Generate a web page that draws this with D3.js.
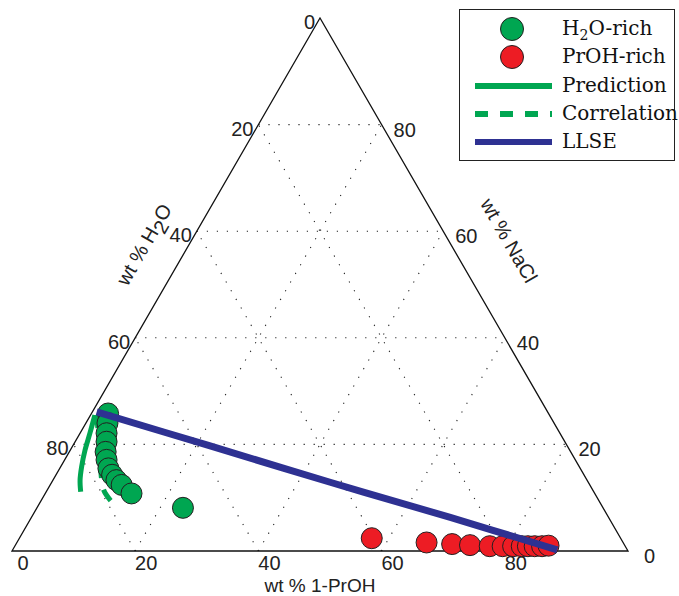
<!DOCTYPE html>
<html>
<head>
<meta charset="utf-8">
<script src="https://cdn.jsdelivr.net/npm/d3@7"></script>
<style>
html,body{margin:0;padding:0;background:#fff;}
svg{display:block;}
</style>
</head>
<body>
<svg id="chart" width="679" height="596"></svg>
<script>
// ---- data (wt %) ----
const tickValues = [0, 20, 40, 60, 80];
const gridValues = [20, 40, 60, 80];

// H2O-rich phase
const h2oRichPrOH = [2.7, 3.5, 4.3, 5.1, 5.9, 6.8, 7.9, 9.1, 10.3, 11.6, 14.0, 23.7];
const h2oRichNaCl = [25.8, 24.0, 22.1, 20.5, 18.6, 17.1, 15.5, 14.3, 13.3, 12.4, 10.8, 8.1];

// PrOH-rich phase
const prohRichPrOH = [57.2, 66.5, 70.8, 73.8, 77.1, 79.2, 80.9, 82.3, 83.3, 84.4, 85.6, 86.6];
const prohRichNaCl = [2.4, 1.6, 1.3, 1.1, 0.9, 0.9, 0.9, 0.9, 0.9, 0.9, 0.9, 1.0];

// Prediction curve
const predPrOH = [0.7, 1.6, 2.4, 3.4, 4.4, 5.6];
const predNaCl = [25.5, 22.1, 18.9, 15.8, 13.3, 11.1];

// Correlation curve
const corrPrOH = [1.0, 3.7, 6.8, 9.2, 11.6];
const corrNaCl = [25.5, 20.8, 15.2, 11.4, 9.2];

// LLSE curve
const llsePrOH = [0.7, 22.0, 45.2, 68.0, 88.4];
const llseNaCl = [26.1, 19.8, 12.9, 6.3, 0.2];

const legendLabels = ["H2O-rich", "PrOH-rich", "Prediction", "Correlation", "LLSE"];

// ---- colours ----
const GREEN = "#00a651", RED = "#ed1c24", BLUE = "#2e3192", EDGE = "#231f20";

// ---- projection ----
const sx = d3.scaleLinear().domain([0, 100]).range([12, 628]);
const sy = d3.scaleLinear().domain([0, 100]).range([551, 18]);
function proj(proh, nacl) { return [sx(proh + nacl / 2), sy(nacl)]; }

const svg = d3.select("#chart");
const line = d3.line();

// ---- grid (dotted) ----
const grid = svg.append("g").attr("fill", "none").attr("stroke", "#222")
  .attr("stroke-width", 1.1).attr("stroke-dasharray", "1.2,8.8");
gridValues.forEach(f => {
  grid.append("path").attr("d", line([proj(0, f), proj(100 - f, f)]));
  grid.append("path").attr("d", line([proj(100 - f, 0), proj(0, 100 - f)]));
  grid.append("path").attr("d", line([proj(f, 0), proj(f, 100 - f)]));
});

// ---- triangle ----
svg.append("path")
  .attr("d", line([proj(0, 0), proj(100, 0), proj(0, 100)]) + "Z")
  .attr("fill", "none").attr("stroke", "#111").attr("stroke-width", 1.3);

// ---- tick labels ----
const tl = svg.append("g").attr("font-family", "'Liberation Sans', Arial, sans-serif")
  .attr("font-size", 20).attr("fill", "#222");
tickValues.forEach(v => {
  const pl = proj(0, 100 - v);
  tl.append("text").attr("x", pl[0] - 5).attr("y", pl[1] + 11)
    .attr("text-anchor", "end").text(v);
  const pr = proj(100 - v, v);
  tl.append("text").attr("x", pr[0] + (v === 0 ? 16 : 12)).attr("y", pr[1] + 12)
    .attr("text-anchor", "start").text(v);
  const pb = proj(v, 0);
  tl.append("text").attr("x", pb[0] + 11).attr("y", pb[1] + 19)
    .attr("text-anchor", "middle").text(v);
});

// ---- axis titles ----
tl.append("text").attr("x", 320).attr("y", 591.5).attr("font-size", 19)
  .attr("text-anchor", "middle").text("wt % 1-PrOH");
const tH = tl.append("text").attr("transform", "translate(150,248) rotate(-60)")
  .attr("text-anchor", "middle");
tH.append("tspan").text("wt % H");
tH.append("tspan").attr("dy", 6).text("2");
tH.append("tspan").attr("dy", -6).text("O");
tl.append("text").attr("transform", "translate(503,244) rotate(60)")
  .attr("text-anchor", "middle").text("wt % NaCl");

// ---- curves ----
const predPts = predPrOH.map((p, i) => proj(p, predNaCl[i]));
const corrPts = corrPrOH.map((p, i) => proj(p, corrNaCl[i]));
const llsePts = llsePrOH.map((p, i) => proj(p, llseNaCl[i]));
const curve = d3.line().curve(d3.curveCatmullRom);

svg.append("path").attr("d", curve(corrPts)).attr("fill", "none")
  .attr("stroke", GREEN).attr("stroke-width", 5).attr("stroke-dasharray", "13,12");
svg.append("path").attr("d", curve(predPts)).attr("fill", "none")
  .attr("stroke", GREEN).attr("stroke-width", 5);

// ---- points ----
svg.append("g").selectAll("circle").data(h2oRichPrOH.map((p, i) => proj(p, h2oRichNaCl[i])))
  .join("circle").attr("cx", d => d[0]).attr("cy", d => d[1]).attr("r", 10.5)
  .attr("fill", GREEN).attr("stroke", EDGE).attr("stroke-width", 1);
svg.append("g").selectAll("circle").data(prohRichPrOH.map((p, i) => proj(p, prohRichNaCl[i])))
  .join("circle").attr("cx", d => d[0]).attr("cy", d => d[1]).attr("r", 10.5)
  .attr("fill", RED).attr("stroke", EDGE).attr("stroke-width", 1);

svg.append("path").attr("d", curve(llsePts)).attr("fill", "none")
  .attr("stroke", BLUE).attr("stroke-width", 7);

// ---- legend ----
const lg = svg.append("g");
lg.append("rect").attr("x", 459.5).attr("y", 9.5).attr("width", 215).attr("height", 151)
  .attr("fill", "#fff").attr("stroke", "#222").attr("stroke-width", 1);
const rowY = [29, 57, 86, 114, 142];
lg.append("circle").attr("cx", 512).attr("cy", rowY[0]).attr("r", 11.5)
  .attr("fill", GREEN).attr("stroke", EDGE);
lg.append("circle").attr("cx", 512).attr("cy", rowY[1]).attr("r", 11.5)
  .attr("fill", RED).attr("stroke", EDGE);
lg.append("line").attr("x1", 475).attr("x2", 552).attr("y1", rowY[2]).attr("y2", rowY[2])
  .attr("stroke", GREEN).attr("stroke-width", 6);
lg.append("line").attr("x1", 475).attr("x2", 552).attr("y1", rowY[3]).attr("y2", rowY[3])
  .attr("stroke", GREEN).attr("stroke-width", 6).attr("stroke-dasharray", "13,12");
lg.append("line").attr("x1", 475).attr("x2", 552).attr("y1", rowY[4]).attr("y2", rowY[4])
  .attr("stroke", BLUE).attr("stroke-width", 6);
const lt = lg.append("g").attr("font-family", "'DejaVu Serif', serif").attr("font-size", 20).attr("fill", "#111");
legendLabels.forEach((s, i) => {
  const t = lt.append("text").attr("x", 562).attr("y", rowY[i] + 6);
  if (s === "H2O-rich") {
    t.append("tspan").text("H");
    t.append("tspan").attr("dy", 5).attr("font-size", 14).text("2");
    t.append("tspan").attr("dy", -5).text("O-rich");
  } else t.text(s);
});
</script>
</body>
</html>
